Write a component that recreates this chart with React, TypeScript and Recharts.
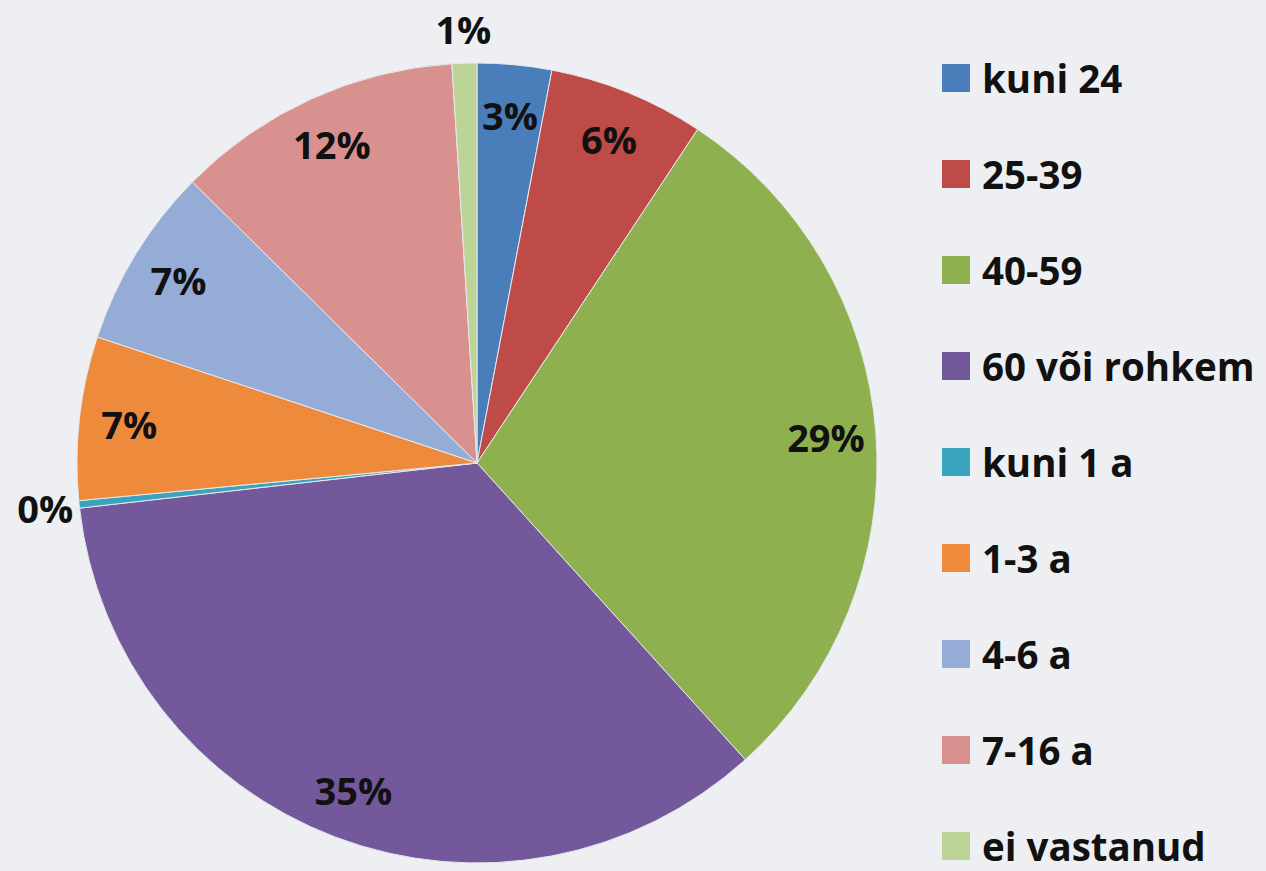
import React from 'react'
import { PieChart, Pie, Cell, Legend } from 'recharts'

const categories = ['kuni 24', '25-39', '40-59', '60 või rohkem', 'kuni 1 a', '1-3 a', '4-6 a', '7-16 a', 'ei vastanud']
const shares = [3.0, 6.3, 29.0, 34.9, 0.3, 6.6, 7.3, 11.6, 1.0]
const colors = ['#4a7ebb', '#be4b48', '#8eb04f', '#73589b', '#3aa3bd', '#ee8a3c', '#94acd6', '#d99190', '#bcd597']

const data = categories.map((name, i) => ({ name, value: shares[i] }))

const FONT = '"Open Sans", Lato, sans-serif'
const RAD = Math.PI / 180

const renderLabel = (p: any) => {
  const { cx, cy, midAngle, outerRadius, percent } = p
  const small = percent < 0.02
  const r = small ? outerRadius + 34 : outerRadius * 0.875
  const x = cx + r * Math.cos(-midAngle * RAD)
  const y = cy + r * Math.sin(-midAngle * RAD)
  return (
    <text x={x} y={y} fill="#111" textAnchor="middle" dominantBaseline="central"
      style={{ fontFamily: FONT, fontWeight: 700, fontSize: 38 }}>
      {`${Math.round(percent * 100)}%`}
    </text>
  )
}

// legend drawn in data order (Recharts would sort it by name)
const renderLegend = () => (
  <div style={{ fontFamily: FONT, fontWeight: 700, fontSize: 38.5, color: '#111', lineHeight: 1 }}>
    {categories.map((name, i) => (
      <div key={name} style={{ display: 'flex', alignItems: 'center', height: 96, whiteSpace: 'nowrap' }}>
        <span style={{ width: 28, height: 28, background: colors[i], display: 'inline-block', marginRight: 12, flex: 'none' }} />
        {name}
      </div>
    ))}
  </div>
)

export default function App() {
  return (
    <div style={{ position: 'fixed', left: 0, top: 0, width: 1266, height: 871, background: '#eeeff2', overflow: 'hidden' }}>
      <PieChart width={1266} height={871} margin={{ top: 0, right: 0, bottom: 0, left: 0 }}>
        <Pie
          data={data}
          dataKey="value"
          nameKey="name"
          cx={477}
          cy={463}
          outerRadius={400}
          startAngle={90}
          endAngle={-270}
          stroke="#e8e8ee"
          strokeWidth={1}
          label={renderLabel}
          labelLine={false}
          isAnimationActive={false}
        >
          {data.map((d, i) => <Cell key={d.name} fill={colors[i]} />)}
        </Pie>
        <Legend
          layout="vertical"
          verticalAlign="top"
          align="right"
          content={renderLegend}
          wrapperStyle={{ top: 30, left: 942, width: 324 }}
        />
      </PieChart>
    </div>
  )
}
